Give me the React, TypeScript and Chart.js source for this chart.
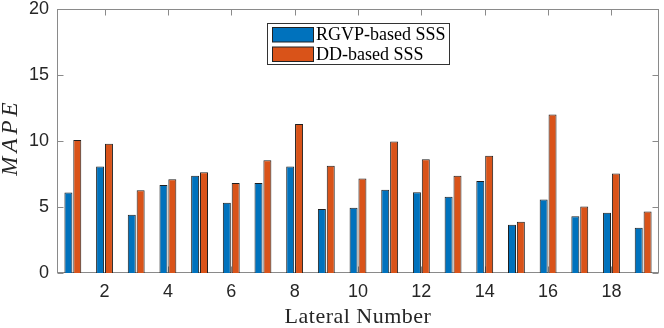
import React, { useEffect, useRef } from "react";
import { Chart, registerables } from "chart.js";

Chart.register(...registerables);

const laterals = ["1","2","3","4","5","6","7","8","9","10","11","12","13","14","15","16","17","18","19"];
const rgvpValues = [6.09, 8.06, 4.42, 6.67, 7.37, 5.33, 6.82, 8.06, 4.85, 4.95, 6.31, 6.11, 5.78, 6.97, 3.66, 5.56, 4.29, 4.57, 3.43];
const ddValues = [10.08, 9.80, 6.26, 7.10, 7.63, 6.82, 8.54, 11.29, 8.13, 7.15, 9.97, 8.61, 7.37, 8.89, 3.89, 12.0, 5.03, 7.53, 4.65];
const seriesNames = ["RGVP-based SSS", "DD-based SSS"];
const seriesColors = ["#0072BD", "#D95319"];
const yTicks = [0, 5, 10, 15, 20];
const xTitle = "Lateral Number";
const yTitle = "MAPE";

const AXIS = "#8a8a8a";
const TEXT = "#262626";

const framePlugin = {
  id: "matlabFrame",
  beforeDatasetsDraw(chart: any) {
    const { ctx, chartArea: a, scales } = chart;
    const x = scales.x, y = scales.y;
    ctx.save();
    ctx.strokeStyle = AXIS;
    ctx.lineWidth = 1;
    const L = Math.round(a.left) + 0.5, R = Math.round(a.right) - 0.5;
    const T = Math.round(a.top) + 0.5, B = Math.round(a.bottom) - 0.5;
    ctx.strokeRect(L, T, R - L, B - T);
    ctx.beginPath();
    laterals.forEach((lab, i) => {
      if (Number(lab) % 2 === 0) {
        const px = Math.round(x.getPixelForValue(i)) + 0.5;
        ctx.moveTo(px, B); ctx.lineTo(px, B - 6);
        ctx.moveTo(px, T); ctx.lineTo(px, T + 6);
      }
    });
    yTicks.forEach((v) => {
      const py = Math.round(y.getPixelForValue(v)) + 0.5;
      ctx.moveTo(L, py); ctx.lineTo(L + 6, py);
      ctx.moveTo(R, py); ctx.lineTo(R - 6, py);
    });
    ctx.stroke();
    ctx.restore();
  },
  afterDraw(chart: any) {
    const { ctx, chartArea: a } = chart;
    ctx.save();
    ctx.fillStyle = TEXT;
    ctx.font = '22px "Liberation Serif"';
    (ctx as any).letterSpacing = "0.5px";
    ctx.textAlign = "center";
    ctx.textBaseline = "alphabetic";
    ctx.fillText(xTitle, (a.left + a.right) / 2, 323);
    ctx.save();
    ctx.translate(17, 137);
    ctx.rotate(-Math.PI / 2);
    ctx.font = 'italic 23px "Liberation Serif"';
    (ctx as any).letterSpacing = "4px";
    ctx.fillText(yTitle, 0, 0);
    ctx.restore();
    // legend
    const bx = 267.5, by = 23.5, bw = 182, bh = 41;
    ctx.fillStyle = "#ffffff";
    ctx.fillRect(bx, by, bw, bh);
    ctx.strokeStyle = "#333333";
    ctx.lineWidth = 1;
    ctx.strokeRect(bx, by, bw, bh);
    ctx.font = '18px "Liberation Serif"';
    (ctx as any).letterSpacing = "0px";
    ctx.textAlign = "left";
    ctx.textBaseline = "middle";
    chart.data.datasets.forEach((ds: any, i: number) => {
      const sy = 27.5 + i * 19.5;
      ctx.fillStyle = ds.backgroundColor;
      ctx.fillRect(272.5, sy, 41, 14.5);
      ctx.strokeStyle = "#222222";
      ctx.strokeRect(272.5, sy, 41, 14.5);
      ctx.fillStyle = "#000000";
      ctx.fillText(ds.label, 316, sy + 8);
    });
    ctx.restore();
  },
};

export default function App() {
  const ref = useRef<HTMLCanvasElement>(null);
  useEffect(() => {
    document.body.style.margin = "0";
    const canvas = ref.current!;
    const chart = new Chart(canvas, {
      type: "bar",
      data: {
        labels: laterals,
        datasets: [
          { label: seriesNames[0], data: rgvpValues, backgroundColor: seriesColors[0], borderColor: "#1f1f1f", borderWidth: 1 },
          { label: seriesNames[1], data: ddValues, backgroundColor: seriesColors[1], borderColor: "#1f1f1f", borderWidth: 1 },
        ],
      },
      options: {
        responsive: false,
        animation: false,
        devicePixelRatio: 1,
        datasets: { bar: { categoryPercentage: 0.56, barPercentage: 0.9 } },
        layout: { padding: { top: 9, right: 5, left: 0, bottom: 0 } },
        plugins: { legend: { display: false }, tooltip: { enabled: false }, title: { display: false } },
        scales: {
          x: {
            type: "category",
            grid: { display: false, drawTicks: false },
            border: { display: false },
            ticks: {
              autoSkip: false,
              maxRotation: 0,
              padding: 8,
              color: TEXT,
              font: { family: '"Liberation Sans"', size: 18 },
              callback: (_v: any, i: number) => (Number(laterals[i]) % 2 === 0 ? laterals[i] : ""),
            },
            afterFit: (s: any) => { s.height = 55; s.paddingLeft = 0; s.paddingRight = 0; },
          },
          y: {
            min: 0,
            max: 20,
            grid: { display: false, drawTicks: false },
            border: { display: false },
            ticks: {
              stepSize: 5,
              padding: 8,
              color: TEXT,
              font: { family: '"Liberation Sans"', size: 18 },
            },
            afterFit: (s: any) => { s.width = 57; s.paddingTop = 0; s.paddingBottom = 0; },
          },
        },
      },
      plugins: [framePlugin],
    });
    return () => chart.destroy();
  }, []);
  return (
    <div style={{ width: 664, height: 328 }}>
      <canvas ref={ref} width={664} height={328} style={{ display: "block" }} />
    </div>
  );
}
